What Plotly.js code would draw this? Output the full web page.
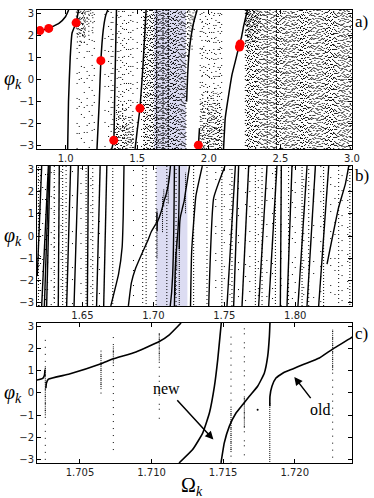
<!DOCTYPE html>
<html>
<head>
<meta charset="utf-8">
<script src="https://cdn.plot.ly/plotly-3.0.1.min.js"></script>
<style>
html,body{margin:0;padding:0;background:#fff}
#chartDiv{width:374px;height:498px}
</style>
</head>
<body>
<div id="chartDiv"></div>
<script>
// windows: b zooms on the shaded strip of a, c on the strip of b
var rangeA = [0.8, 3.0]
var rangeB = [1.618, 1.84]
var rangeC = [1.702, 1.724]
var PI = 3.1416

// ---- panel a ---------------------------------------------------
var aCurveOmega = [
  [0.80, 0.82, 0.882, 0.955, 1.0, 1.021],
  [1.014, 1.02, 1.032, 1.045, 1.073, 1.09],
  [1.219, 1.235, 1.246, 1.262, 1.28, 1.294],
  [1.322, 1.336, 1.342, 1.348, 1.355],
  [1.485, 1.50, 1.519, 1.54, 1.562],
  [1.845, 1.852, 1.862, 1.875, 1.895, 1.918],
  [1.922, 1.927, 1.935],
  [2.103, 2.115, 2.139, 2.162, 2.185, 2.208, 2.227, 2.243, 2.262, 2.27]
]
var aCurvePhi = [
  [2.18, 2.21, 2.31, 2.55, 2.85, 3.14],
  [-3.14, -1.0, 1.0, 2.1, 2.56, 3.14],
  [-3.14, -1.0, 0.85, 2.2, 2.9, 3.14],
  [-3.14, -2.75, -1.0, 1.0, 3.14],
  [-3.14, -2.3, -1.3, 0.6, 3.14],
  [-1.0, 0.2, 1.2, 1.9, 2.6, 3.14],
  [-3.14, -2.97, -2.2],
  [-3.14, -1.73, -0.68, 0.22, 0.82, 1.43, 1.88, 2.41, 2.93, 3.14]
]
var redOmega = [0.82, 0.882, 1.073, 1.246, 1.336, 1.519, 1.927, 2.219, 2.214]
var redPhi = [2.21, 2.31, 2.56, 0.85, -2.75, -1.30, -2.97, 1.60, 1.47]

// columns of scattered points, by how crowded they look
var aSparseCols = [1.08, 1.095, 1.11, 1.13, 1.15, 1.165, 1.185, 1.2, 1.275, 1.30, 1.955, 2.0, 2.04, 2.075]
var aMediumCols = [1.318, 1.33, 1.36, 1.372, 1.385, 1.398, 1.41, 1.425, 1.44, 1.455, 1.47, 1.50, 1.53,
  1.94, 1.952, 1.965, 1.978, 1.99, 2.005, 2.02, 2.035, 2.05, 2.065, 2.08, 2.09]
var aDenseCols = [1.545, 1.551, 1.558, 1.566, 1.571, 1.578, 1.587, 1.592, 1.599, 1.607, 1.613, 1.62,
  1.627, 1.633, 1.64, 1.647, 1.652, 1.659, 1.667, 1.673, 1.68, 1.687, 1.693, 1.7, 1.707, 1.713,
  1.72, 1.727, 1.733, 1.74, 1.747, 1.753, 1.76, 1.767, 1.773, 1.78, 1.787, 1.793, 1.8, 1.807,
  1.813, 1.82, 1.827, 1.833, 1.84,
  2.255, 2.262, 2.27, 2.277, 2.283, 2.29, 2.298, 2.305, 2.312, 2.319, 2.327, 2.334, 2.341, 2.348,
  2.356, 2.363, 2.37, 2.377, 2.385, 2.392, 2.399, 2.42, 2.427, 2.434, 2.441, 2.449, 2.456, 2.463,
  2.48, 2.487, 2.495, 2.502, 2.509, 2.516, 2.524, 2.531, 2.538, 2.545, 2.553, 2.56, 2.567, 2.574,
  2.582, 2.589, 2.596, 2.603, 2.611, 2.618, 2.625, 2.632, 2.64, 2.647, 2.654, 2.661, 2.669, 2.676,
  2.683, 2.69, 2.698, 2.705, 2.712, 2.719, 2.727, 2.734, 2.741, 2.748, 2.756, 2.763, 2.77, 2.777,
  2.785, 2.792, 2.799, 2.806, 2.814, 2.821, 2.828, 2.835, 2.843, 2.85, 2.857, 2.864, 2.872, 2.879,
  2.886, 2.893, 2.901, 2.908, 2.915, 2.922, 2.93, 2.937, 2.944, 2.951, 2.959, 2.966, 2.973, 2.98,
  2.988, 2.995]
// crowded tops: column omega and where the crowd starts
var aTopCols = [1.075, 1.082, 1.088, 1.094, 1.10, 1.106, 1.112, 1.118, 1.125, 1.131, 1.137, 1.15,
  1.162, 1.175, 1.19, 1.852, 1.86, 1.868, 1.875, 1.883, 1.89, 1.898, 1.905,
  2.259, 2.266, 2.273, 2.28, 2.287, 2.294, 2.30, 2.308, 2.315, 2.322, 2.33, 2.34, 2.35, 2.36]
var aTopFrom = [2.3, 1.9, 2.1, 2.5, 1.7, 2.2, 2.6, 2.0, 2.4, 1.8, 2.3, 2.6, 2.2, 2.7, 2.5,
  1.2, 1.6, 1.9, 2.2, 1.8, 2.4, 2.6, 2.8,
  1.9, 2.3, 1.7, 2.1, 2.5, 2.0, 2.4, 2.2, 2.6, 2.1, 2.5, 2.3, 2.7, 2.6]
// crowded bottoms: column omega and where the crowd ends
var aBottomCols = [1.34, 1.347, 1.355, 1.362, 1.37, 1.38, 1.39, 1.398, 1.405, 1.412, 1.42, 1.428,
  1.435, 1.443, 1.45, 1.458, 1.465, 1.472,
  1.945, 1.958, 1.965, 1.972, 1.985, 1.992, 2.0, 2.008, 2.015, 2.022, 2.03, 2.038, 2.045, 2.052,
  2.06, 2.068, 2.075, 2.083, 2.09, 2.10]
var aBottomTo = [-1.6, -2.1, -1.2, -1.9, -0.9, -1.5, -2.3, -1.1, -1.7, -2.0, -1.3, -1.8,
  -2.2, -1.4, -1.9, -2.4, -1.6, -2.1,
  -1.0, -0.6, -1.4, -0.8, -1.9, -0.5, -1.2, -1.6, -0.7, -1.1, -0.4, -1.5, -0.9, -1.3,
  -0.6, -1.8, -1.0, -1.4, -2.0, -1.7]
var aSolidCols = [1.636, 1.68, 1.717, 2.408, 2.472]

// ---- panel b ---------------------------------------------------
var bStemFoot = [1.6213, 1.6232, 1.6248, 1.6330, 1.6389, 1.6441, 1.6535, 1.6600, 1.6650,
  1.7519, 1.7566, 1.7625, 1.7742, 1.7813, 1.7895, 1.7942, 1.8019, 1.8083, 1.8165]
var bStemHead = [1.6260, 1.6265, 1.6272, 1.6337, 1.6417, 1.6471, 1.6542, 1.6625, 1.6672,
  1.7578, 1.7601, 1.7672, 1.7801, 1.7871, 1.7902, 1.7977, 1.8083, 1.8142, 1.8236]
var bCurveOmega = [
  [1.6182, 1.6213],
  [1.6700, 1.6755, 1.6780, 1.6788, 1.6793],
  [1.6824, 1.6845, 1.6875, 1.6915, 1.6958, 1.6986, 1.7020],
  [1.7262, 1.7270, 1.7300, 1.7345],
  [1.7390, 1.7425, 1.7505],
  [1.8224, 1.8306, 1.8353, 1.8377]
]
var bCurvePhi = [
  [-1.8, 3.14],
  [-3.14, -1.7, -0.5, 1.0, 3.14],
  [-3.14, -2.1, -1.45, -0.85, -0.25, 0.2, 0.57],
  [-3.14, -0.7, 1.8, 3.14],
  [-3.14, 1.7, 3.14],
  [-1.26, 1.29, 2.33, 3.14]
]
var bDotCols = [1.6190, 1.6302, 1.6361, 1.6385, 1.6526, 1.6573, 1.6714, 1.6925, 1.6949, 1.7019,
  1.7095, 1.7160, 1.7284, 1.7378, 1.7483, 1.7554, 1.7719, 1.7766, 1.7860, 1.7953, 1.8048,
  1.8095, 1.8200, 1.8306, 1.8385]
var bSparseCols = [1.6195, 1.6205, 1.6220, 1.6240, 1.6255, 1.6280, 1.6300, 1.6350, 1.6430, 1.6490,
  1.6560, 1.6620, 1.6860, 1.7440, 1.7500, 1.7540, 1.7600, 1.7650, 1.7680, 1.7740, 1.7800, 1.7840,
  1.7900, 1.7980, 1.8000, 1.8060, 1.8130, 1.8180, 1.8250, 1.8280, 1.8330, 1.8370]

// ---- panel c (also drawn in b, where they fall inside its range) ----
var cCurveOmega = [
  [1.70193, 1.70240, 1.70252, 1.70256],
  [1.70262, 1.70266, 1.70280, 1.70426, 1.70647, 1.70728, 1.70891, 1.71054, 1.71124, 1.71206],
  [1.71192, 1.71287, 1.71357, 1.71404, 1.71439, 1.71462, 1.71478, 1.71487],
  [1.71485, 1.71508, 1.71543, 1.71590, 1.71636, 1.71683, 1.71741, 1.71788, 1.71811, 1.71823, 1.71827],
  [1.71826, 1.71827, 1.71841, 1.71869, 1.71927, 1.71986, 1.72055, 1.72172, 1.72265, 1.72393, 1.7255]
]
var cCurvePhi = [
  [0.57, 0.66, 0.80, 1.05],
  [0.22, 0.45, 0.62, 0.85, 1.31, 1.52, 1.84, 2.31, 2.61, 3.14],
  [-3.14, -2.54, -1.80, -0.90, 0.30, 1.49, 2.54, 3.14],
  [-3.14, -2.24, -1.50, -0.90, -0.53, -0.15, 0.30, 0.90, 1.64, 2.54, 3.14],
  [-0.6, -0.15, 0.30, 0.67, 0.93, 1.08, 1.27, 1.57, 1.97, 2.47, 3.14]
]
var cSpikeOmega = [1.70258, 1.70647, 1.70733, 1.71054, 1.71555, 1.71648, 1.72265, 1.71826]
var cSpikeLo = [-1.0, 0.4, 1.42, 1.87, -2.47, -1.05, 1.34, -3.14]
var cSpikeHi = [1.2, 1.8, 2.09, 2.69, -0.67, -0.15, 2.84, -0.4]
var cScatterOmega = [1.70258, 1.70647, 1.70733, 1.71054, 1.71555, 1.71648, 1.72265]
var cScatterLo = [-3.0, 0.2, -2.47, -0.75, -2.99, -2.3, -2.9]
var cScatterHi = [2.6, 2.1, 2.69, 2.69, 2.69, 3.0, 2.84]
var cLoneOmega = [1.71741]
var cLonePhi = [-0.75]

// ---- build traces ------------------------------------------------
var traces = []
var ink = 'black'

function curves(om, ph, xa, ya, w) {
  om.forEach(function(xs, i) {
    traces.push({x: xs, y: ph[i], xaxis: xa, yaxis: ya, mode: 'lines', hoverinfo: 'skip',
      line: {color: ink, width: w, shape: 'spline', smoothing: 0.4}})
  })
}

// dash rhythms; each column also starts its rhythm a few px below its foot
// (the overhang is clipped) so that neighbours do not line up into rows
var speckle = ['1px,3px', '1px,4px,1px,2px', '1px,5px,1px,1px', '1px,2px,1px,6px',
  '1px,3px,1px,4px,1px,2px', '1px,7px,1px,2px', '1px,4px', '2px,5px,1px,3px']
var thin = ['1px,6px,1px,9px', '1px,11px,1px,4px', '1px,8px', '1px,5px,1px,13px']
var rare = ['1px,14px,1px,9px', '1px,19px,1px,6px', '1px,11px,1px,23px']
var phasePx = [0, 5, 2, 9, 4, 11, 7, 1, 10, 3, 8]
var phiPerPx = 2 * PI / 139

function columns(xs, lo, hi, dashes, xa, ya, w) {
  dashes.forEach(function(d, k) {
    var x = [], y = []
    xs.forEach(function(v, i) {
      if (i % dashes.length != k) return
      var a = Array.isArray(lo) ? lo[i] : lo
      var b = Array.isArray(hi) ? hi[i] : hi
      x.push(v, v, null)
      y.push(a - phasePx[i % phasePx.length] * phiPerPx, b, null)
    })
    traces.push({x: x, y: y, xaxis: xa, yaxis: ya, mode: 'lines', hoverinfo: 'skip',
      line: {color: ink, width: w || 1, dash: d}})
  })
}

// a
columns(aSparseCols, -PI, PI, rare, 'x', 'y')
columns(aMediumCols, -PI, PI, thin, 'x', 'y')
columns(aDenseCols, -PI, PI, speckle, 'x', 'y')
columns(aTopCols, aTopFrom, PI, speckle, 'x', 'y')
columns(aBottomCols, -PI, aBottomTo, speckle, 'x', 'y')
columns(aSolidCols, -PI, PI, ['3px,1px', '2px,1px,1px,1px'], 'x', 'y')
curves(aCurveOmega, aCurvePhi, 'x', 'y', 1.5)
traces.push({x: redOmega, y: redPhi, xaxis: 'x', yaxis: 'y', mode: 'markers', hoverinfo: 'skip',
  marker: {color: '#ff0000', size: 9}})

// b
columns(bSparseCols, -PI, PI, rare, 'x2', 'y2')
columns(bDotCols, -PI, PI, ['1px,2px', '1px,3px'], 'x2', 'y2')
bStemFoot.forEach(function(f, i) {
  traces.push({x: [f, bStemHead[i]], y: [-PI, PI], xaxis: 'x2', yaxis: 'y2', mode: 'lines',
    hoverinfo: 'skip', line: {color: ink, width: 1.4}})
})
curves(bCurveOmega, bCurvePhi, 'x2', 'y2', 1.4)
curves(cCurveOmega, cCurvePhi, 'x2', 'y2', 1.4)
columns(cSpikeOmega, cSpikeLo, cSpikeHi, ['1px,1px'], 'x2', 'y2')

// c
columns(cScatterOmega, cScatterLo, cScatterHi, ['1px,6px', '1px,8px,1px,4px'], 'x3', 'y3')
columns(cSpikeOmega, cSpikeLo, cSpikeHi, ['1px,1px'], 'x3', 'y3')
curves(cCurveOmega, cCurvePhi, 'x3', 'y3', 1.6)
traces.push({x: cLoneOmega, y: cLonePhi, xaxis: 'x3', yaxis: 'y3', mode: 'markers',
  hoverinfo: 'skip', marker: {color: ink, size: 2}})

// ---- layout ------------------------------------------------------
var tickFont = {family: 'DejaVu Sans', size: 10, color: '#222'}
function axis(extra) {
  var base = {showline: true, linecolor: 'black', linewidth: 1, mirror: 'ticks', ticks: 'inside',
    ticklen: 4, tickcolor: 'black', showgrid: false, zeroline: false, tickfont: tickFont, fixedrange: true}
  return Object.assign(base, extra)
}
var phiTicks = {range: [-PI, PI], tickvals: [-3, -2, -1, 0, 1, 2, 3]}
var serif = {family: 'Liberation Serif', size: 17, color: 'black'}
var mathFont = {family: 'Liberation Serif', size: 20, color: 'black'}

function shade(win, xa, ya) {
  return {type: 'rect', xref: xa, yref: ya, x0: win[0], x1: win[1], y0: -PI, y1: PI,
    fillcolor: '#dcdcf2', line: {width: 0}, layer: 'below'}
}
function panelTag(t, y) {
  return {text: t, xref: 'paper', yref: 'paper', x: 1.004, y: y, xanchor: 'left', yanchor: 'middle',
    showarrow: false, font: serif}
}
function phiLabel(y) {
  return {text: '<i>φ</i><sub><i>k</i></sub>', xref: 'paper', yref: 'paper', x: -0.076, y: y,
    xanchor: 'center', yanchor: 'middle', showarrow: false, font: mathFont}
}
// word with an arrow drawn from it towards (x, y)
function pointer(t, x, y, tx, ty) {
  return {text: t, x: x, y: y, ax: tx, ay: ty, xref: 'x3', yref: 'y3', axref: 'x3', ayref: 'y3',
    showarrow: true, arrowhead: 2, arrowsize: 1.1, arrowwidth: 1.5, arrowcolor: 'black',
    standoff: 0, startstandoff: 2, font: {family: 'Liberation Serif', size: 16, color: 'black'}}
}

var layout = {
  width: 374, height: 498,
  margin: {l: 37, r: 22, t: 10, b: 35},
  paper_bgcolor: 'white', plot_bgcolor: 'white',
  showlegend: false, hovermode: false,
  xaxis: axis({domain: [0, 1], anchor: 'y', range: rangeA, tickvals: [1, 1.5, 2, 2.5, 3], tickformat: '.1f'}),
  yaxis: axis(Object.assign({domain: [0.6932, 1], anchor: 'x'}, phiTicks)),
  xaxis2: axis({domain: [0, 1], anchor: 'y2', range: rangeB, tickvals: [1.65, 1.70, 1.75, 1.80], tickformat: '.2f'}),
  yaxis2: axis(Object.assign({domain: [0.3466, 0.6556], anchor: 'x2'}, phiTicks)),
  xaxis3: axis({domain: [0, 1], anchor: 'y3', range: rangeC, tickvals: [1.705, 1.710, 1.715, 1.720], tickformat: '.3f'}),
  yaxis3: axis(Object.assign({domain: [0, 0.3091], anchor: 'x3'}, phiTicks)),
  shapes: [shade(rangeB, 'x', 'y'), shade(rangeC, 'x2', 'y2')],
  annotations: [
    panelTag('a)', 0.9757), panelTag('b)', 0.6336), panelTag('c)', 0.2848),
    phiLabel(0.8455), phiLabel(0.5011), phiLabel(0.1545),
    {text: 'Ω<sub><i>k</i></sub>', xref: 'paper', yref: 'paper', x: 0.492, y: -0.051,
      xanchor: 'center', yanchor: 'middle', showarrow: false, font: mathFont},
    pointer('new', 1.71432, -2.09, 1.71106, 0.19),
    pointer('old', 1.71997, 0.72, 1.72174, -0.75)
  ]
}

Plotly.newPlot('chartDiv', traces, layout, {staticPlot: true})
</script>
</body>
</html>
